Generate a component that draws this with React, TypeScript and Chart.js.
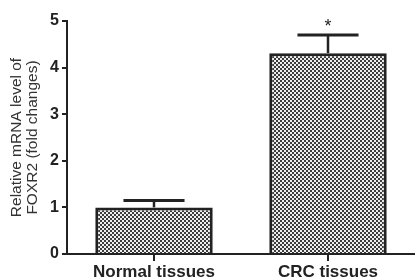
import React, { useEffect, useRef } from 'react';
import { Chart, registerables } from 'chart.js';

Chart.register(...registerables);

const categories = ['Normal tissues', 'CRC tissues'];
const meanValues = [1.0, 4.31];
const errorValues = [0.15, 0.39];
const significance = ['', '*'];
const yAxisTitle = ['Relative mRNA level of', 'FOXR2 (fold changes)'];
const yMin = 0;
const yMax = 5;
const yStep = 1;

const FONT = '"Liberation Sans", Arial, sans-serif';
const INK = '#222222';

const errorBarPlugin = {
  id: 'errorBars',
  afterDatasetsDraw(chart: any) {
    const meta = chart.getDatasetMeta(0);
    const y = chart.scales.y;
    const ctx = chart.ctx;
    ctx.save();
    ctx.strokeStyle = INK;
    ctx.lineCap = 'butt';
    meta.data.forEach((bar: any, i: number) => {
      const x = bar.x;
      const w = bar.width;
      const top = y.getPixelForValue(meanValues[i] + errorValues[i]);
      const base = y.getPixelForValue(meanValues[i]);
      ctx.lineWidth = 2.5;
      ctx.beginPath();
      ctx.moveTo(x, base);
      ctx.lineTo(x, top);
      ctx.stroke();
      ctx.lineWidth = 3;
      ctx.beginPath();
      ctx.moveTo(x - w * 0.26, top);
      ctx.lineTo(x + w * 0.26, top);
      ctx.stroke();
      if (significance[i]) {
        ctx.font = '18px ' + FONT;
        ctx.textAlign = 'center';
        ctx.textBaseline = 'alphabetic';
        ctx.fillStyle = INK;
        ctx.fillText(significance[i], x, top - 3);
      }
    });
    ctx.restore();
  },
};

export default function App() {
  const canvasRef = useRef<HTMLCanvasElement | null>(null);

  useEffect(() => {
    const canvas = canvasRef.current;
    if (!canvas) return;
    const ctx = canvas.getContext('2d')!;
    const pc = document.createElement('canvas');
    pc.width = 4;
    pc.height = 4;
    const pg = pc.getContext('2d')!;
    pg.fillStyle = '#eeeeee';
    pg.fillRect(0, 0, 4, 4);
    pg.fillStyle = '#3c3c3c';
    pg.fillRect(0, 0, 2, 2);
    pg.fillRect(2, 2, 2, 2);
    const pattern = ctx.createPattern(pc, 'repeat');

    const chart = new Chart(canvas, {
      type: 'bar',
      data: {
        labels: categories,
        datasets: [
          {
            data: meanValues,
            backgroundColor: pattern as any,
            borderColor: INK,
            borderWidth: 3,
            borderSkipped: 'start',
            categoryPercentage: 1,
            barPercentage: 0.675,
          },
        ],
      },
      plugins: [errorBarPlugin],
      options: {
        animation: false,
        responsive: true,
        maintainAspectRatio: false,
        layout: { padding: { top: 21, right: 0, bottom: 0, left: 0 } },
        plugins: {
          legend: { display: false },
          tooltip: { enabled: false },
        },
        scales: {
          x: {
            type: 'category',
            offset: true,
            afterFit: (s: any) => {
              s.height = 26;
            },
            border: { display: true, color: INK, width: 2 },
            grid: {
              offset: false,
              drawOnChartArea: false,
              drawTicks: true,
              tickLength: 7,
              color: INK,
              lineWidth: 2,
            },
            ticks: {
              color: INK,
              font: { family: FONT, size: 17, weight: 'bold' },
              maxRotation: 0,
              minRotation: 0,
              padding: 1,
            },
          },
          y: {
            min: yMin,
            max: yMax,
            afterFit: (s: any) => {
              s.width = 67;
            },
            border: { display: true, color: INK, width: 2 },
            grid: {
              drawOnChartArea: false,
              drawTicks: true,
              tickLength: 5,
              color: INK,
              lineWidth: 2,
            },
            ticks: {
              stepSize: yStep,
              color: INK,
              font: { family: FONT, size: 16, weight: 'bold' },
              padding: 3,
            },
            title: {
              display: true,
              text: yAxisTitle,
              color: '#333333',
              font: { family: FONT, size: 15.5, lineHeight: 1.05 },
              padding: { top: 8.5, bottom: 0 },
            },
          },
        },
      },
    });
    return () => chart.destroy();
  }, []);

  return (
    <div style={{ position: 'fixed', left: 0, top: 0, width: 415, height: 280, background: '#fff' }}>
      <canvas ref={canvasRef} />
    </div>
  );
}
